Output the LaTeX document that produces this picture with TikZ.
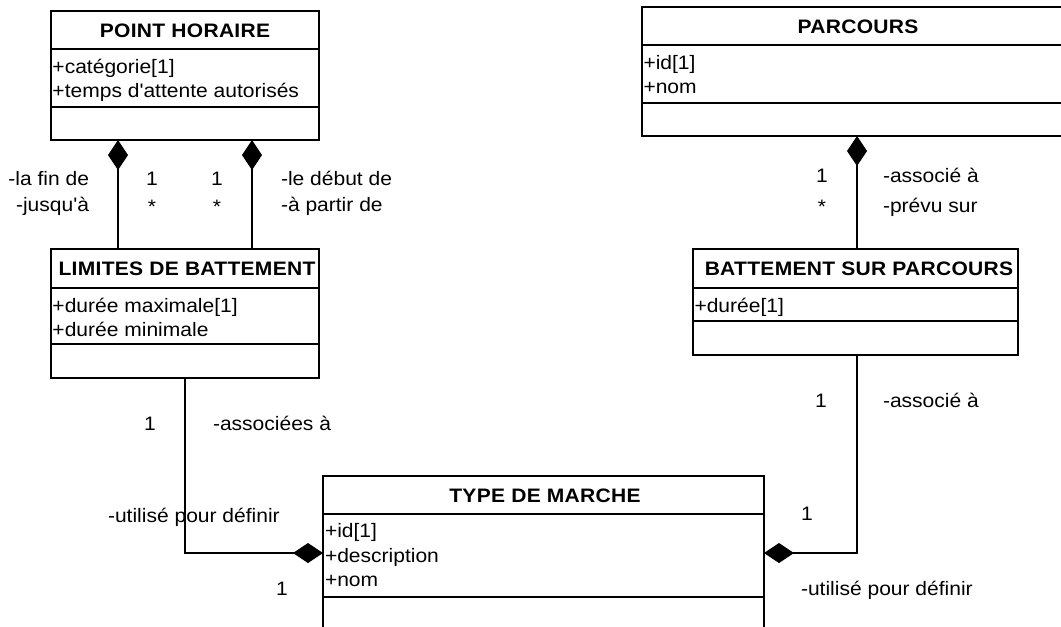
\documentclass[tikz,border=0pt]{standalone}
\usepackage{fontspec}
\setmainfont{Liberation Sans}[FakeStretch=1.08,Ligatures=TeXOff]
\newfontfamily\titlefont{Liberation Sans}[FakeStretch=1.08,LetterSpace=1.5,Ligatures=TeXOff]
\usetikzlibrary{arrows.meta,fit}

\tikzset{
  txt/.style={inner sep=0pt, outer sep=0pt, font=\fontsize{14.6pt}{17.5pt}\selectfont},
  classbox/.style={draw=black, line width=1.4pt, fill=white, inner sep=0pt, outer sep=0pt},
  divider/.style={draw=black, line width=1.4pt},
  classtitle/.style={txt, anchor=base, font=\titlefont\bfseries\fontsize{14.6pt}{17.5pt}\selectfont},
  attr/.style={txt, anchor=base west},
  lbl/.style={txt, anchor=base west},
  lblr/.style={txt, anchor=base east},
  mult/.style={txt, anchor=base},
  link/.style={draw=black, line width=0.8pt},
  comp/.style={link, {Diamond[length=22.5pt,width=15pt]}-},
  compend/.style={link, -{Diamond[length=22.5pt,width=15pt]}},
}

\begin{document}
\begin{tikzpicture}[x=0.75pt, y=-0.75pt]
\useasboundingbox (0,0) rectangle (1061,626);
\clip (0,0) rectangle (1061,626);

% ---------- POINT HORAIRE ----------
\node[classbox, fit={(51,11) (319,140)}] (ph) {};
\draw[divider] (51,49) -- (319,49);
\draw[divider] (51,107) -- (319,107);
\node[classtitle] (phT) at (185,37) {POINT HORAIRE};
\node[attr] (ph1) at (52.5,73) {+catégorie[1]};
\node[attr] (ph2) at (52.5,97) {+temps d'attente autorisés};

% ---------- LIMITES DE BATTEMENT ----------
\node[classbox, fit={(51,249) (319,378)}] (lb) {};
\draw[divider] (51,288) -- (319,288);
\draw[divider] (51,344) -- (319,344);
\node[classtitle] (lbT) at (187,275) {LIMITES DE BATTEMENT};
\node[attr] (lb1) at (52.5,312) {+durée maximale[1]};
\node[attr] (lb2) at (52.5,336) {+durée minimale};

% ---------- PARCOURS ----------
\node[classbox, fit={(642,7) (1074,136)}] (pa) {};
\draw[divider] (642,45) -- (1074,45);
\draw[divider] (642,103) -- (1074,103);
\node[classtitle] (paT) at (858,33) {PARCOURS};
\node[attr] (pa1) at (643.5,69) {+id[1]};
\node[attr] (pa2) at (643.5,93) {+nom};

% ---------- BATTEMENT SUR PARCOURS ----------
\node[classbox, fit={(693,249) (1018,355)}] (bsp) {};
\draw[divider] (693,288) -- (1018,288);
\draw[divider] (693,321) -- (1018,321);
\node[classtitle] (bspT) at (859,275) {BATTEMENT SUR PARCOURS};
\node[attr] (bsp1) at (694.5,312) {+durée[1]};

% ---------- TYPE DE MARCHE ----------
\node[classbox, fit={(323,476) (764,680)}] (tm) {};
\draw[divider] (323,514) -- (764,514);
\draw[divider] (323,597) -- (764,597);
\node[classtitle] (tmT) at (545,502) {TYPE DE MARCHE};
\node[attr] (tm1) at (325,537) {+id[1]};
\node[attr] (tm2) at (325,562) {+description};
\node[attr] (tm3) at (325,586) {+nom};

% ---------- connector routing points ----------
\coordinate (xA) at (118,0);
\coordinate (xB) at (252,0);
\coordinate (xC) at (185,0);
\coordinate (xD) at (857,0);
\coordinate (yE) at (0,553);

% ---------- connectors ----------
\draw[comp] (ph.south -| xA) -- (lb.north -| xA);
\draw[comp] (ph.south -| xB) -- (lb.north -| xB);
\draw[comp] (pa.south -| xD) -- (bsp.north -| xD);
\draw[compend] (lb.south -| xC) |- (tm.west |- yE);
\draw[compend] (bsp.south -| xD) |- (tm.east |- yE);

% ---------- roles and multiplicities ----------
\node[lblr] (r1) at (89,185) {-la fin de};
\node[lblr] (r2) at (89,211) {-jusqu'à};
\node[mult] (m1) at (152,185) {1};
\node[mult] (m2) at (152,213) {*};
\node[mult] (m3) at (217,185) {1};
\node[mult] (m4) at (217,213) {*};
\node[lbl] (r3) at (281,185) {-le début de};
\node[lbl] (r4) at (281,211) {-à partir de};

\node[mult] (m5) at (822,182) {1};
\node[mult] (m6) at (822,213) {*};
\node[lbl] (r5) at (883,182) {-associé à};
\node[lbl] (r6) at (883,212) {-prévu sur};

\node[mult] (m7) at (150,430) {1};
\node[lbl] (r7) at (213,430) {-associées à};
\node[lbl] (r8) at (108,522) {-utilisé pour définir};
\node[mult] (m8) at (282,595) {1};

\node[mult] (m9) at (821,407) {1};
\node[lbl] (r9) at (883,407) {-associé à};
\node[mult] (m10) at (807,520) {1};
\node[lbl] (r10) at (801,595) {-utilisé pour définir};
\end{tikzpicture}
\end{document}
